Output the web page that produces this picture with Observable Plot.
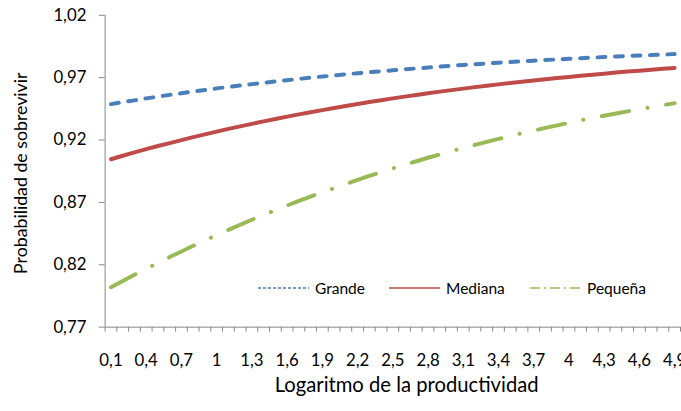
<!DOCTYPE html>
<html><head><meta charset="utf-8">
<script src="https://cdn.jsdelivr.net/npm/d3@7"></script>
<script src="https://cdn.jsdelivr.net/npm/@observablehq/plot@0.6"></script>
<style>
html,body{margin:0;padding:0;background:#fff;overflow:hidden}
#wrap{position:relative;width:681px;height:411px;overflow:hidden;background:#fff;font-family:Lato,sans-serif}
#wrap svg.plot{max-width:none;position:absolute;left:0;top:0}
.lg{position:absolute;display:flex;align-items:center;font-size:15.5px;color:#000;white-space:nowrap}
.lg svg{margin-right:6px}
</style></head><body><div id="wrap"></div>
<script>
const xs = [0.1,0.2,0.3,0.4,0.5,0.6,0.7,0.8,0.9,1.0,1.1,1.2,1.3,1.4,1.5,1.6,1.7,1.8,1.9,2.0,2.1,2.2,2.3,2.4,2.5,2.6,2.7,2.8,2.9,3.0,3.1,3.2,3.3,3.4,3.5,3.6,3.7,3.8,3.9,4.0,4.1,4.2,4.3,4.4,4.5,4.6,4.7,4.8,4.9];
const grande = [0.9488,0.9504,0.9518,0.9534,0.9548,0.9562,0.9575,0.9589,0.9601,0.9614,0.9626,0.9637,0.9648,0.9659,0.9670,0.9680,0.9690,0.9700,0.9709,0.9718,0.9727,0.9735,0.9744,0.9751,0.9759,0.9767,0.9774,0.9781,0.9789,0.9795,0.9802,0.9808,0.9814,0.9820,0.9825,0.9831,0.9836,0.9842,0.9846,0.9851,0.9856,0.9861,0.9865,0.9870,0.9874,0.9878,0.9881,0.9885,0.9889];
const mediana = [0.9046,0.9074,0.9101,0.9127,0.9152,0.9176,0.9200,0.9223,0.9246,0.9268,0.9289,0.9310,0.9330,0.9350,0.9369,0.9388,0.9406,0.9423,0.9440,0.9457,0.9473,0.9489,0.9505,0.9519,0.9534,0.9548,0.9561,0.9575,0.9588,0.9600,0.9612,0.9624,0.9635,0.9646,0.9657,0.9667,0.9678,0.9688,0.9697,0.9706,0.9715,0.9724,0.9732,0.9741,0.9749,0.9756,0.9764,0.9771,0.9778];
const pequena = [0.8020,0.8070,0.8120,0.8167,0.8216,0.8262,0.8307,0.8352,0.8396,0.8438,0.8480,0.8521,0.8561,0.8600,0.8638,0.8675,0.8712,0.8747,0.8781,0.8815,0.8848,0.8880,0.8912,0.8943,0.8973,0.9002,0.9030,0.9058,0.9084,0.9111,0.9137,0.9162,0.9186,0.9209,0.9232,0.9255,0.9276,0.9298,0.9318,0.9338,0.9358,0.9377,0.9395,0.9413,0.9430,0.9447,0.9464,0.9480,0.9496];
const xTickLabels = [0.1,0.4,0.7,1.0,1.3,1.6,1.9,2.2,2.5,2.8,3.1,3.4,3.7,4.0,4.3,4.6,4.9];
const yTicks = [0.77,0.82,0.87,0.92,0.97,1.02];
const seriesNames = ["Grande","Mediana","Pequeña"];
const xTitle = "Logaritmo de la productividad";
const yTitle = "Probabilidad de sobrevivir";

const colors = ["#4A7EBB","#BE4B48","#98B954"];
const dashes = ["8,9.7", null, "28,19,0.1,19"];
const legendDash = ["3,2", null, "10,4,2,4"];
const legendLeft = [258, 389, 530];

const series = [grande, mediana, pequena];
const half = 0.05;
const bounds = xs.map(x => +(x - half).toFixed(2)).concat([+(xs[xs.length-1] + half).toFixed(2)]);
const fmt = d => String(+d.toFixed(2)).replace(".", ",");
const axisGray = "#868686";

const marks = [
  Plot.ruleY([yTicks[0]], {stroke: axisGray, strokeWidth: 1}),
  Plot.ruleX([bounds[0]], {stroke: axisGray, strokeWidth: 1}),
  Plot.axisX({ticks: bounds, tickSize: 5, tickFormat: () => "", stroke: axisGray, label: null}),
  Plot.axisX({ticks: xTickLabels, tickSize: 0, tickPadding: 27, tickFormat: fmt, fill: "#000", label: null, fontSize: 17}),
  Plot.axisY({ticks: yTicks, tickSize: 6, tickPadding: 13, tickFormat: fmt, stroke: axisGray, fill: "#000", label: null, fontSize: 17}),
  Plot.text([yTitle], {frameAnchor: "left", textAnchor: "middle", rotate: -90, dx: -85, dy: 2, fontSize: 18, fill: "#000"}),
  Plot.text([xTitle], {frameAnchor: "bottom", textAnchor: "middle", dx: 14, dy: 66, fontSize: 20.5, fill: "#000"})
];
series.forEach((vals, s) => {
  const rows = xs.map((x, i) => ({x, v: vals[i]}));
  const opts = {x: "x", y: "v", stroke: colors[s], strokeWidth: 4, strokeLinecap: "round", strokeLinejoin: "round", curve: "linear"};
  if (dashes[s]) opts.strokeDasharray = dashes[s];
  marks.push(Plot.line(rows, opts));
});

const chart = Plot.plot({
  width: 690, height: 411,
  marginLeft: 106, marginRight: 1, marginTop: 15, marginBottom: 80,
  x: {domain: [bounds[0], bounds[bounds.length-1]], axis: null},
  y: {domain: [yTicks[0], yTicks[yTicks.length-1]], axis: null},
  style: {fontFamily: "Lato, sans-serif", background: "white", color: "#000"},
  marks
});
const wrap = document.getElementById("wrap");
wrap.appendChild(chart);

seriesNames.forEach((name, s) => {
  const d = document.createElement("div");
  d.className = "lg";
  d.style.left = legendLeft[s] + "px";
  d.style.top = "279px";
  const dash = legendDash[s] ? `stroke-dasharray="${legendDash[s]}"` : "";
  d.innerHTML = `<svg width="51" height="18"><line x1="0" y1="9" x2="51" y2="9" stroke="${colors[s]}" stroke-width="1.6" ${dash}/></svg><span>${name}</span>`;
  wrap.appendChild(d);
});
</script></body></html>
